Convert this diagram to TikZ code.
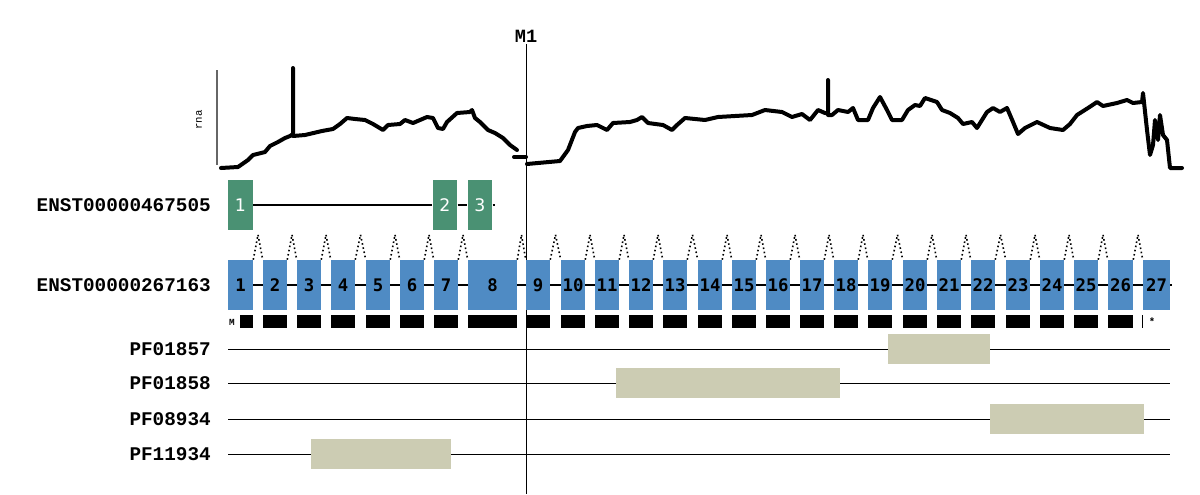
\documentclass[tikz,border=0pt]{standalone}
\usepackage{fontspec}
\setmainfont{DejaVu Sans}
\setmonofont{Liberation Mono}
\newfontfamily\exonfont{DejaVu Sans Mono}
\usetikzlibrary{calc}

\definecolor{exonblue}{RGB}{79,139,196}
\definecolor{exongreen}{RGB}{74,145,115}
\definecolor{pfbox}{RGB}{204,204,179}

\tikzset{
  exon/.style={fill=exonblue, minimum height=37.5pt, inner sep=0pt,
    font=\exonfont\bfseries\fontsize{13}{13}\selectfont},
  altexon/.style={fill=exongreen, minimum height=37.5pt, minimum width=18.4pt,
    inner sep=0pt, text=white, font=\fontsize{13}{13}\selectfont},
  trlabel/.style={anchor=east, inner sep=0pt, font=\ttfamily\bfseries\fontsize{14.5}{14.5}\selectfont},
  intron/.style={line width=1.6pt},
  splice/.style={dotted, line width=1.2pt},
  pfdomain/.style={fill=pfbox},
  track/.style={line width=0.5pt},
  cov/.style={line width=3pt, line join=round, line cap=round},
}

\begin{document}
\begin{tikzpicture}[x=0.75pt,y=-0.75pt]
\useasboundingbox (0,0) rectangle (1200,494);

% coverage track
\draw[gray!80!black, line width=0.8pt] (217,70) -- (217,165);
\node[rotate=90, font=\ttfamily\fontsize{8}{8}\selectfont] (rna) at (199,120) {rna};
\draw[cov] plot coordinates {(221,168) (238,167) (248,160) (253,155) (265,152) (270,146)
  (278,142) (285,138) (290,136) (293,134) (293,68) (293,136) (305,135) (322,131) (333,129)
  (340,124) (347,118) (355,119) (365,120) (373,124) (383,130) (388,125) (400,124) (405,120)
  (413,123) (420,120) (427,117) (433,118) (438,128) (443,129) (447,122) (457,113) (470,112)
  (472,110) (475,118) (480,122) (488,130) (495,133) (503,138) (510,145) (517,150)};
\draw[cov] (514,157) -- (526,157);
\draw[cov] plot coordinates {(527,164) (560,161) (568,150) (575,132) (578,128) (587,126)
  (597,125) (607,130) (613,123) (630,122) (637,120) (642,117) (648,123) (663,125) (672,130)
  (677,125) (685,118) (705,120) (718,117) (752,115) (765,110) (782,112) (792,117) (802,114)
  (810,120) (818,110) (825,113) (828,113) (828,80) (828,115) (832,115) (838,110) (848,112)
  (853,108) (858,120) (868,120) (873,108) (880,97) (887,110) (892,120) (902,120) (908,110)
  (915,105) (920,106) (925,98) (937,102) (942,110) (950,113) (958,118) (963,124) (972,122)
  (977,128) (987,112) (993,108) (1000,112) (1007,108) (1013,122) (1018,134) (1025,128)
  (1037,122) (1050,128) (1063,130) (1070,124) (1077,115) (1088,108) (1097,102) (1103,106)
  (1117,103) (1127,100) (1133,103) (1142,102) (1143,93) (1147,130) (1150,155) (1153,145)
  (1155,120) (1158,140) (1160,115) (1163,135) (1167,140) (1170,168) (1182,168)};

% marker
\node[font=\ttfamily\bfseries\fontsize{14}{14}\selectfont, inner sep=1pt] (m1) at (526,36) {M1};
\coordinate (m1end) at (526,494);
\draw[line width=0.6pt] (m1.south) -- (m1end);

% transcript ENST00000467505
\node[trlabel] (t1) at (211,205) {ENST00000467505};
\node[altexon] (g1) at (240.5,205) {1};
\node[altexon] (g2) at (445,205) {2};
\node[altexon] (g3) at (480,205) {3};
\draw[intron] (g1.east) -- (g2.west);
\draw[intron] (g2.east) -- (g3.west);
\draw[intron] (g3.east) -- ++(2,0);

% transcript ENST00000267163
\node[trlabel] (t2) at (211,285) {ENST00000267163};
\foreach \s/\e [count=\i] in {228/253, 263/287, 297/321, 331/355, 366/390, 400/424,
    434/458, 468/517, 526/550, 561/585, 595/619, 629/653, 663/687, 698/722, 732/756,
    766/790, 800/824, 834/858, 868/892, 903/927, 937/961, 971/995, 1006/1030, 1040/1064,
    1074/1098, 1108/1133, 1143/1170}
  \node[exon, minimum width={(\e-\s)*0.75pt}] (e\i) at ({(\s+\e)/2},285) {\i};
\foreach \i [evaluate=\i as \j using int(\i+1)] in {1,...,26} {
  \draw[intron] (e\i.east) -- (e\j.west);
  \draw[splice] (e\i.north east) -- ($(e\i.north east)!0.5!(e\j.north west)+(0,-25)$)
    -- (e\j.north west);
}
\draw[intron] (e27.east) -- ++(1.5,0);

% codons
\coordinate (ctop) at (0,315);
\coordinate (cbot) at (0,328);
\node[font=\ttfamily\bfseries\fontsize{7}{7}\selectfont, inner sep=0pt] (start) at (232,322) {M};
\fill (240,315) rectangle (e1.east |- cbot);
\foreach \i in {2,...,26}
  \fill (e\i.west |- ctop) rectangle (e\i.east |- cbot);
\draw[line width=1pt] (e27.west |- ctop) -- (e27.west |- cbot);
\node[font=\ttfamily\bfseries\fontsize{8}{8}\selectfont, inner sep=0pt] (stop) at (1152,322) {*};

% domains
\foreach \y/\name/\a/\b in {349/PF01857/888/990, 383/PF01858/616/840,
    419/PF08934/990/1144, 454/PF11934/311/451} {
  \node[trlabel] (\name) at (211,\y) {\name};
  \draw[track] (228,\y) -- (1170,\y);
  \fill[pfdomain] (\a,\y-15) rectangle (\b,\y+15);
}
\end{tikzpicture}
\end{document}
